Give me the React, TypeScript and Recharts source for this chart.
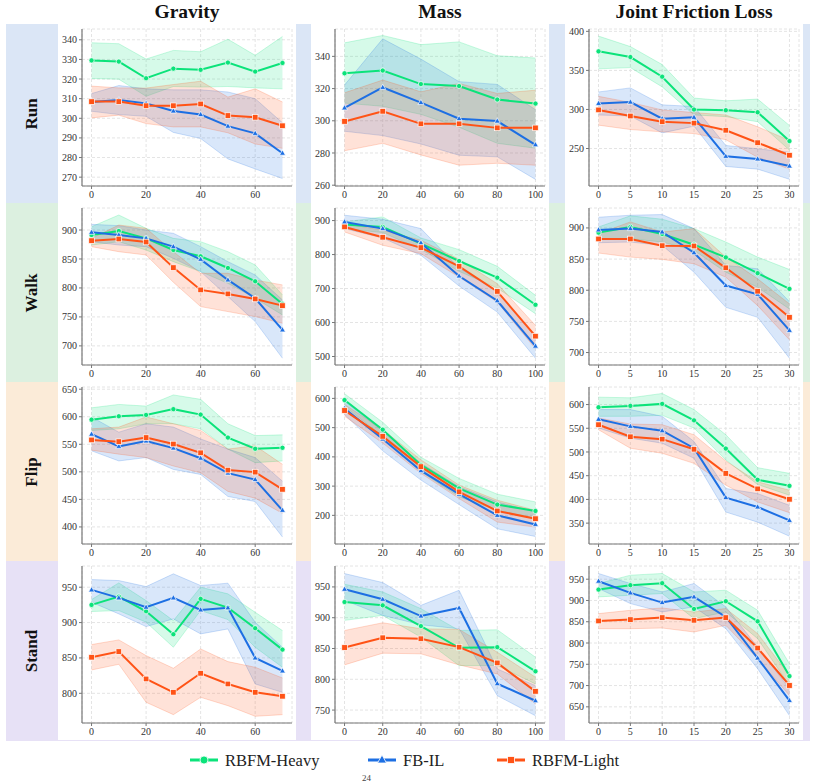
import { ComposedChart, Line, Area, XAxis, YAxis, CartesianGrid } from 'recharts'

// x positions per column
const gravityX = [0, 10, 20, 30, 40, 50, 60, 70]
const massX = [0, 20, 40, 60, 80, 100]
const frictionX = [0, 5, 10, 15, 20, 25, 30]

const gravityTicks = [0, 20, 40, 60]
const massTicks = [0, 20, 40, 60, 80, 100]
const frictionTicks = [0, 5, 10, 15, 20, 25, 30]

const columnTitles = ['Gravity', 'Mass', 'Joint Friction Loss']
const rowTitles = ['Run', 'Walk', 'Flip', 'Stand']
const seriesNames = ['RBFM-Heavy', 'FB-IL', 'RBFM-Light']

// ---- Run ----
const runGravHeavy = [329.5, 328.9, 320.4, 325.3, 324.7, 328.4, 323.8, 328.2]
const runGravHeavyLo = [320.3, 319.9, 311.2, 316.2, 315.9, 316.2, 315.5, 315.0]
const runGravHeavyHi = [338.5, 338.0, 330.2, 334.6, 333.9, 340.3, 332.1, 341.7]
const runGravFbil = [308.3, 309.3, 307.6, 303.7, 301.9, 296.0, 292.3, 282.2]
const runGravFbilLo = [303.6, 301.9, 301.0, 292.8, 289.7, 279.3, 274.2, 269.3]
const runGravFbilHi = [312.6, 316.7, 315.0, 314.5, 314.5, 313.4, 310.0, 297.7]
const runGravLight = [308.5, 308.5, 306.4, 306.4, 307.3, 301.4, 300.5, 296.2]
const runGravLightLo = [300.2, 301.6, 297.3, 295.6, 295.6, 292.6, 286.9, 284.7]
const runGravLightHi = [316.4, 315.5, 315.4, 317.2, 318.9, 310.8, 315.0, 308.3]

const runMassHeavy = [329.5, 331.2, 322.8, 321.6, 313.2, 310.7]
const runMassHeavyLo = [311, 309, 304, 296, 286, 283]
const runMassHeavyHi = [348.4, 353.0, 347.3, 349.0, 340.4, 339.0]
const runMassFbil = [308.0, 320.7, 311.3, 301.3, 299.8, 285.1]
const runMassFbilLo = [293.5, 290.8, 285.6, 278.6, 277.6, 263.6]
const runMassFbilHi = [322.2, 350.9, 338.3, 324.3, 322.6, 306.9]
const runMassLight = [299.6, 305.9, 298.1, 298.1, 295.6, 295.6]
const runMassLightLo = [281.4, 286.0, 278.8, 272.4, 273.6, 272.4]
const runMassLightHi = [317.4, 325.3, 318.0, 323.2, 317.0, 319.0]

const runFricHeavy = [374.4, 367.1, 341.9, 299.9, 299.0, 296.4, 259.5]
const runFricHeavyLo = [352, 353.6, 328.9, 293, 290.8, 284.3, 248]
const runFricHeavyHi = [393.9, 380.5, 357.5, 314.6, 311.1, 313.3, 279.5]
const runFricFbil = [307.7, 309.4, 288.2, 289.9, 240.0, 236.6, 227.5]
const runFricFbilLo = [292.9, 291.6, 270.0, 278.6, 227.0, 223.6, 210.6]
const runFricFbilHi = [322.4, 327.6, 305.9, 303.8, 253.9, 249.6, 245.3]
const runFricLight = [299.4, 291.6, 284.3, 282.5, 273.4, 257.4, 241.4]
const runFricLightLo = [279.9, 274.3, 271.3, 269.1, 261.3, 238.8, 223.6]
const runFricLightHi = [316.8, 309.0, 299.4, 296.0, 292.9, 277.8, 260.4]

// ---- Walk ----
const walkGravHeavy = [891.4, 898.3, 885.6, 865.5, 854.6, 834.5, 811.5, 772.4]
const walkGravHeavyLo = [874.1, 879.9, 865.5, 845.4, 828.2, 808.0, 782.2, 753.4]
const walkGravHeavyHi = [905.7, 925.9, 902.9, 885.6, 879.9, 862.6, 839.7, 788.0]
const walkGravFbil = [896.0, 891.4, 885.6, 871.3, 849.4, 813.8, 782.2, 727.6]
const walkGravFbilLo = [879.9, 874.1, 871.3, 851.1, 828.2, 785.1, 742.0, 678.7]
const walkGravFbilHi = [909.8, 907.5, 900.0, 894.3, 871.3, 845.4, 822.4, 779.3]
const walkGravLight = [881.6, 884.5, 879.3, 835.1, 796.6, 789.7, 781.0, 769.5]
const walkGravLightLo = [871.3, 862.6, 856.9, 809.8, 767.8, 759.2, 750.6, 739.1]
const walkGravLightHi = [885.6, 908.6, 902.9, 862.6, 825.3, 825.3, 813.8, 805.2]

const walkMassHeavy = [888.2, 881.3, 832.2, 781.1, 731.9, 652.3]
const walkMassHeavyLo = [876.4, 864.6, 815.5, 750.6, 701.5, 625.8]
const walkMassHeavyHi = [896.0, 910.8, 848.9, 814.5, 765.4, 679.9]
const walkMassFbil = [896.1, 876.4, 834.2, 736.9, 664.1, 530.5]
const walkMassFbilLo = [876.4, 848.9, 797.8, 707.4, 630.7, 495.1]
const walkMassFbilHi = [915.7, 903.9, 876.4, 760.4, 691.6, 561.9]
const walkMassLight = [881.3, 850.9, 820.4, 765.4, 691.6, 559.9]
const walkMassLightLo = [866.6, 827.3, 802.7, 733.9, 660.2, 522.6]
const walkMassLightHi = [891.2, 871.5, 842.0, 786.0, 714.3, 591.4]

const walkFricHeavy = [892.5, 901.6, 890.3, 873.1, 852.7, 827.4, 802.2]
const walkFricHeavyLo = [882.8, 882.8, 877.4, 864.0, 829.0, 804.8, 769.9]
const walkFricHeavyHi = [901.6, 919.4, 914.0, 898.9, 877.4, 853.2, 833.3]
const walkFricFbil = [896.8, 898.9, 893.5, 860.2, 807.5, 793.5, 735.5]
const walkFricFbilLo = [876.3, 877.4, 872.0, 829.0, 772.6, 756.5, 690.9]
const walkFricFbilHi = [917.2, 920.4, 921.5, 898.9, 839.8, 834.4, 781.7]
const walkFricLight = [882.3, 882.3, 871.5, 871.0, 836.0, 798.4, 756.5]
const walkFricLightLo = [859.7, 853.2, 849.5, 842.5, 821.0, 775.3, 720.4]
const walkFricLightHi = [890.9, 909.7, 893.5, 898.9, 853.2, 818.3, 778.0]

// ---- Flip ----
const flipGravHeavy = [594.7, 600.9, 603.3, 613.8, 603.9, 562.2, 541.9, 543.7]
const flipGravHeavyLo = [575.1, 578.1, 587.3, 587.3, 578.1, 541.3, 516.7, 519.8]
const flipGravHeavyHi = [616.2, 622.4, 619.3, 639.6, 631.6, 587.3, 565.8, 567.1]
const flipGravFbil = [568.3, 546.2, 556.0, 543.1, 524.7, 497.7, 486.0, 430.1]
const flipGravFbilLo = [538.2, 519.8, 525.9, 504.4, 495.2, 455.3, 446.1, 381.6]
const flipGravFbilHi = [599.6, 572.0, 587.3, 581.2, 559.7, 541.3, 525.9, 483.0]
const flipGravLight = [557.9, 554.8, 562.2, 550.5, 534.5, 503.2, 499.5, 468.2]
const flipGravLightLo = [539.4, 532.1, 525.9, 510.6, 498.3, 464.5, 452.2, 424.6]
const flipGravLightHi = [578.1, 581.2, 599.6, 587.3, 575.1, 541.3, 547.4, 513.6]

const flipMassHeavy = [594.3, 493.1, 372.4, 292.0, 236.8, 215.0]
const flipMassHeavyLo = [573.6, 470.1, 349.4, 263.2, 217.2, 188.5]
const flipMassHeavyHi = [616.1, 518.4, 398.9, 326.4, 272.4, 246.0]
const flipMassFbil = [565.5, 460.9, 352.9, 272.4, 200.0, 169.0]
const flipMassFbilLo = [544.8, 420.7, 320.7, 236.8, 154.0, 127.6]
const flipMassFbilHi = [590.8, 487.4, 378.2, 297.7, 246.0, 211.5]
const flipMassLight = [558.6, 470.1, 366.7, 280.5, 215.0, 188.5]
const flipMassLightLo = [539.1, 447.1, 343.7, 257.5, 177.0, 159.8]
const flipMassLightHi = [579.3, 493.1, 389.7, 303.4, 251.7, 217.2]

const flipFricHeavy = [594.3, 597.2, 601.4, 566.7, 507.2, 441.4, 428.6]
const flipFricHeavyLo = [575.2, 575.2, 577.3, 550.4, 483.1, 431.4, 408.8]
const flipFricHeavyHi = [615.6, 614.2, 623.4, 589.4, 536.3, 466.9, 454.9]
const flipFricFbil = [568.8, 554.0, 544.8, 507.9, 403.8, 384.0, 355.7]
const flipFricFbilLo = [550.4, 529.2, 518.6, 486.7, 373.4, 352.1, 322.4]
const flipFricFbilHi = [589.4, 589.4, 575.2, 522.1, 423.0, 412.3, 387.5]
const flipFricLight = [557.5, 532.0, 527.1, 505.8, 454.8, 422.2, 400.3]
const flipFricLightLo = [546.9, 507.9, 497.3, 476.0, 430.0, 394.6, 372.0]
const flipFricLightHi = [571.7, 558.9, 557.5, 536.3, 481.0, 437.1, 419.4]

// ---- Stand ----
const standGravHeavy = [925.0, 936.8, 916.0, 883.5, 933.5, 921.2, 892.0, 861.8]
const standGravHeavyLo = [915.6, 917.0, 900.5, 865.1, 917.0, 904.2, 865.1, 836.8]
const standGravHeavyHi = [932.5, 956.1, 931.1, 902.8, 950.0, 940.6, 914.6, 888.7]
const standGravFbil = [946.2, 934.9, 921.7, 934.9, 917.9, 920.8, 850.0, 831.6]
const standGravFbilLo = [928.8, 912.3, 894.3, 905.2, 884.0, 891.0, 813.2, 801.4]
const standGravFbilHi = [960.8, 959.4, 950.9, 968.9, 952.4, 955.7, 900.5, 865.1]
const standGravLight = [851.0, 859.0, 820.3, 801.4, 828.3, 813.2, 801.4, 795.8]
const standGravLightLo = [833.0, 841.0, 787.3, 769.8, 794.3, 782.5, 767.5, 769.8]
const standGravLightHi = [868.9, 875.5, 853.3, 835.4, 862.7, 844.8, 836.8, 821.7]

const standMassHeavy = [925.5, 920.1, 886.4, 851.1, 852.2, 813.0]
const standMassHeavyLo = [895.7, 903.8, 868.5, 822.3, 822.3, 792.4]
const standMassHeavyHi = [954.3, 941.8, 914.7, 879.3, 880.4, 835.9]
const standMassFbil = [946.2, 929.9, 902.7, 915.8, 792.9, 765.2]
const standMassFbilLo = [928.3, 903.8, 888.6, 882.1, 773.4, 740.8]
const standMassFbilHi = [971.7, 957.1, 920.1, 944.6, 816.8, 789.7]
const standMassLight = [851.6, 867.4, 865.8, 852.2, 826.6, 780.4]
const standMassLightLo = [823.4, 842.4, 841.3, 823.4, 808.7, 759.8]
const standMassLightHi = [879.3, 891.8, 882.1, 881.0, 844.0, 803.3]

const standFricHeavy = [925.6, 935.9, 940.6, 880.1, 898.2, 851.0, 722.2]
const standFricHeavyLo = [908.4, 912.3, 916.3, 857.3, 873.0, 810.2, 700.2]
const standFricHeavyHi = [939.8, 959.4, 963.4, 920.1, 924.1, 877.0, 751.3]
const standFricFbil = [945.3, 917.8, 895.0, 908.4, 861.2, 764.6, 664.8]
const standFricFbilLo = [928.0, 892.7, 873.0, 884.8, 833.7, 739.5, 629.5]
const standFricFbilHi = [963.4, 939.8, 920.1, 939.8, 884.8, 790.5, 692.3]
const standFricLight = [851.8, 855.0, 859.7, 853.4, 859.7, 788.2, 700.2]
const standFricLightLo = [833.7, 833.7, 835.3, 825.9, 841.6, 763.0, 676.6]
const standFricLightHi = [869.1, 876.9, 882.4, 873.0, 880.9, 822.0, 723.8]

const GREEN = '#0be37a'
const BLUE = '#1d6fe3'
const ORANGE = '#ff5316'
const ROW_BG = ['#dbe6f6', '#dcf0e0', '#fbebd8', '#e7e1f6']
const SERIF = "'Liberation Serif', 'Times New Roman', serif"

const COL_LEFT = [58, 311, 565]
const ROW_TOP = [24, 203, 382, 561]
const PANEL_W = 238
const PANEL_H = 179

type S = [number[], number[], number[]]
interface PanelDef {
  x: number[]; xDomain: [number, number]; xTicks: number[]
  yDomain: [number, number]; yTicks: number[]
  heavy: S; fbil: S; light: S
}

const gravCol = { x: gravityX, xDomain: [-3.5, 73.5] as [number, number], xTicks: gravityTicks }
const massCol = { x: massX, xDomain: [-5, 105] as [number, number], xTicks: massTicks }
const fricCol = { x: frictionX, xDomain: [-1.5, 31.5] as [number, number], xTicks: frictionTicks }

const panels: PanelDef[][] = [
  [
    { ...gravCol, yDomain: [265.5, 345.5], yTicks: [270, 280, 290, 300, 310, 320, 330, 340],
      heavy: [runGravHeavy, runGravHeavyLo, runGravHeavyHi], fbil: [runGravFbil, runGravFbilLo, runGravFbilHi], light: [runGravLight, runGravLightLo, runGravLightHi] },
    { ...massCol, yDomain: [259.5, 357], yTicks: [260, 280, 300, 320, 340],
      heavy: [runMassHeavy, runMassHeavyLo, runMassHeavyHi], fbil: [runMassFbil, runMassFbilLo, runMassFbilHi], light: [runMassLight, runMassLightLo, runMassLightHi] },
    { ...fricCol, yDomain: [202, 403], yTicks: [250, 300, 350, 400],
      heavy: [runFricHeavy, runFricHeavyLo, runFricHeavyHi], fbil: [runFricFbil, runFricFbilLo, runFricFbilHi], light: [runFricLight, runFricLightLo, runFricLightHi] },
  ],
  [
    { ...gravCol, yDomain: [667, 938], yTicks: [700, 750, 800, 850, 900],
      heavy: [walkGravHeavy, walkGravHeavyLo, walkGravHeavyHi], fbil: [walkGravFbil, walkGravFbilLo, walkGravFbilHi], light: [walkGravLight, walkGravLightLo, walkGravLightHi] },
    { ...massCol, yDomain: [475, 937], yTicks: [500, 600, 700, 800, 900],
      heavy: [walkMassHeavy, walkMassHeavyLo, walkMassHeavyHi], fbil: [walkMassFbil, walkMassFbilLo, walkMassFbilHi], light: [walkMassLight, walkMassLightLo, walkMassLightHi] },
    { ...fricCol, yDomain: [680, 932], yTicks: [700, 750, 800, 850, 900],
      heavy: [walkFricHeavy, walkFricHeavyLo, walkFricHeavyHi], fbil: [walkFricFbil, walkFricFbilLo, walkFricFbilHi], light: [walkFricLight, walkFricLightLo, walkFricLightHi] },
  ],
  [
    { ...gravCol, yDomain: [369, 654], yTicks: [400, 450, 500, 550, 600, 650],
      heavy: [flipGravHeavy, flipGravHeavyLo, flipGravHeavyHi], fbil: [flipGravFbil, flipGravFbilLo, flipGravFbilHi], light: [flipGravLight, flipGravLightLo, flipGravLightHi] },
    { ...massCol, yDomain: [102, 639], yTicks: [200, 300, 400, 500, 600],
      heavy: [flipMassHeavy, flipMassHeavyLo, flipMassHeavyHi], fbil: [flipMassFbil, flipMassFbilLo, flipMassFbilHi], light: [flipMassLight, flipMassLightLo, flipMassLightHi] },
    { ...fricCol, yDomain: [306, 637], yTicks: [350, 400, 450, 500, 550, 600],
      heavy: [flipFricHeavy, flipFricHeavyLo, flipFricHeavyHi], fbil: [flipFricFbil, flipFricFbilLo, flipFricFbilHi], light: [flipFricLight, flipFricLightLo, flipFricLightHi] },
  ],
  [
    { ...gravCol, yDomain: [758, 980], yTicks: [800, 850, 900, 950],
      heavy: [standGravHeavy, standGravHeavyLo, standGravHeavyHi], fbil: [standGravFbil, standGravFbilLo, standGravFbilHi], light: [standGravLight, standGravLightLo, standGravLightHi] },
    { ...massCol, yDomain: [729, 984], yTicks: [750, 800, 850, 900, 950],
      heavy: [standMassHeavy, standMassHeavyLo, standMassHeavyHi], fbil: [standMassFbil, standMassFbilLo, standMassFbilHi], light: [standMassLight, standMassLightLo, standMassLightHi] },
    { ...fricCol, yDomain: [612, 981], yTicks: [650, 700, 750, 800, 850, 900, 950],
      heavy: [standFricHeavy, standFricHeavyLo, standFricHeavyHi], fbil: [standFricFbil, standFricFbilLo, standFricFbilHi], light: [standFricLight, standFricLightLo, standFricLightHi] },
  ],
]

const circleDot = (props: any) => {
  const { cx, cy, index } = props
  if (cx == null || cy == null) return <g key={index} />
  return <circle key={index} cx={cx} cy={cy} r={2.6} fill={GREEN} stroke="#fff" strokeWidth={0.7} />
}
const triangleDot = (props: any) => {
  const { cx, cy, index } = props
  if (cx == null || cy == null) return <g key={index} />
  return <polygon key={index} points={`${cx},${cy - 3.3} ${cx - 3},${cy + 2} ${cx + 3},${cy + 2}`} fill={BLUE} stroke="#fff" strokeWidth={0.7} />
}
const squareDot = (props: any) => {
  const { cx, cy, index } = props
  if (cx == null || cy == null) return <g key={index} />
  return <rect key={index} x={cx - 2.8} y={cy - 2.8} width={5.6} height={5.6} fill={ORANGE} stroke="#fff" strokeWidth={0.7} />
}

const tickStyle = { fontFamily: SERIF, fontSize: 10, fill: '#333', style: { fontFamily: SERIF } }
const axisLineStyle = { stroke: '#777', strokeWidth: 1.2 }

function Panel({ p, left, top }: { p: PanelDef; left: number; top: number }) {
  const data = p.x.map((x, i) => ({
    x,
    h: p.heavy[0][i], hb: [p.heavy[1][i], p.heavy[2][i]],
    f: p.fbil[0][i], fb: [p.fbil[1][i], p.fbil[2][i]],
    l: p.light[0][i], lb: [p.light[1][i], p.light[2][i]],
  }))
  const band = (key: string, color: string) => (
    <Area dataKey={key} type="linear" fill={color} fillOpacity={0.17} stroke={color} strokeOpacity={0.3}
      strokeWidth={0.7} dot={false} activeDot={false} isAnimationActive={false} />
  )
  return (
    <div style={{ position: 'absolute', left, top, width: PANEL_W, height: PANEL_H, background: '#fff', fontFamily: SERIF }}>
      <ComposedChart width={PANEL_W} height={PANEL_H} data={data} margin={{ top: 5, right: 4, bottom: 0, left: 0 }}>
        <CartesianGrid stroke="#e4e4e4" strokeDasharray="3 2" />
        <XAxis type="number" dataKey="x" domain={p.xDomain} ticks={p.xTicks} interval={0} allowDataOverflow
          height={17} tickSize={3} tick={tickStyle} axisLine={axisLineStyle} tickLine={{ stroke: '#777' }} />
        <YAxis type="number" domain={p.yDomain} ticks={p.yTicks} interval={0} allowDataOverflow
          width={24} tickSize={3} tick={tickStyle} axisLine={axisLineStyle} tickLine={{ stroke: '#777' }} />
        {band('hb', GREEN)}
        {band('fb', BLUE)}
        {band('lb', ORANGE)}
        <Line dataKey="h" type="linear" stroke={GREEN} strokeWidth={2} dot={circleDot} activeDot={false} isAnimationActive={false} />
        <Line dataKey="f" type="linear" stroke={BLUE} strokeWidth={2} dot={triangleDot} activeDot={false} isAnimationActive={false} />
        <Line dataKey="l" type="linear" stroke={ORANGE} strokeWidth={2} dot={squareDot} activeDot={false} isAnimationActive={false} />
      </ComposedChart>
    </div>
  )
}

function Legend() {
  const items = [
    { x: 190, color: GREEN, marker: 'circle' },
    { x: 368, color: BLUE, marker: 'triangle' },
    { x: 497, color: ORANGE, marker: 'square' },
  ]
  const y = 760
  return (
    <svg style={{ position: 'absolute', left: 0, top: 0, fontFamily: SERIF }} width={817} height={784}>
      {items.map((it, i) => {
        const mx = it.x + 14
        return (
          <g key={i}>
            <line x1={it.x} y1={y} x2={it.x + 28} y2={y} stroke={it.color} strokeWidth={3} />
            {it.marker === 'circle' && <circle cx={mx} cy={y} r={4} fill={it.color} stroke="#fff" strokeWidth={0.8} />}
            {it.marker === 'triangle' && <polygon points={`${mx},${y - 5} ${mx - 4.5},${y + 3} ${mx + 4.5},${y + 3}`} fill={it.color} stroke="#fff" strokeWidth={0.8} />}
            {it.marker === 'square' && <rect x={mx - 3.5} y={y - 3.5} width={7} height={7} fill={it.color} stroke="#fff" strokeWidth={0.8} />}
            <text x={it.x + 35} y={y + 6} style={{ fontFamily: SERIF }} fontSize={16.5} fill="#222">{seriesNames[i]}</text>
          </g>
        )
      })}
      <text x={362} y={781} style={{ fontFamily: SERIF }} fontSize={9} fill="#444">24</text>
    </svg>
  )
}

export default function App() {
  return (
    <div style={{ position: 'absolute', left: 0, top: 0, width: 817, height: 784, background: '#fff', overflow: 'hidden', fontFamily: SERIF }}>
      {ROW_TOP.map((t, r) => (
        <div key={r} style={{ position: 'absolute', left: 6, top: t, width: 804, height: r === 3 ? 180 : PANEL_H, background: ROW_BG[r] }} />
      ))}
      {rowTitles.map((name, r) => (
        <div key={name} style={{
          position: 'absolute', left: 6, top: ROW_TOP[r], width: 52, height: PANEL_H,
          display: 'flex', alignItems: 'center', justifyContent: 'center',
        }}>
          <div style={{ transform: 'rotate(-90deg)', fontFamily: SERIF, fontWeight: 700, fontSize: 17, color: '#111', whiteSpace: 'nowrap' }}>{name}</div>
        </div>
      ))}
      {columnTitles.map((name, c) => (
        <div key={name} style={{
          position: 'absolute', left: COL_LEFT[c] + 24, top: 1, width: 210, textAlign: 'center',
          fontFamily: SERIF, fontWeight: 700, fontSize: 19.5, color: '#111',
        }}>{name}</div>
      ))}
      {panels.map((row, r) => row.map((p, c) => (
        <Panel key={`${r}-${c}`} p={p} left={COL_LEFT[c]} top={ROW_TOP[r]} />
      )))}
      <Legend />
    </div>
  )
}
